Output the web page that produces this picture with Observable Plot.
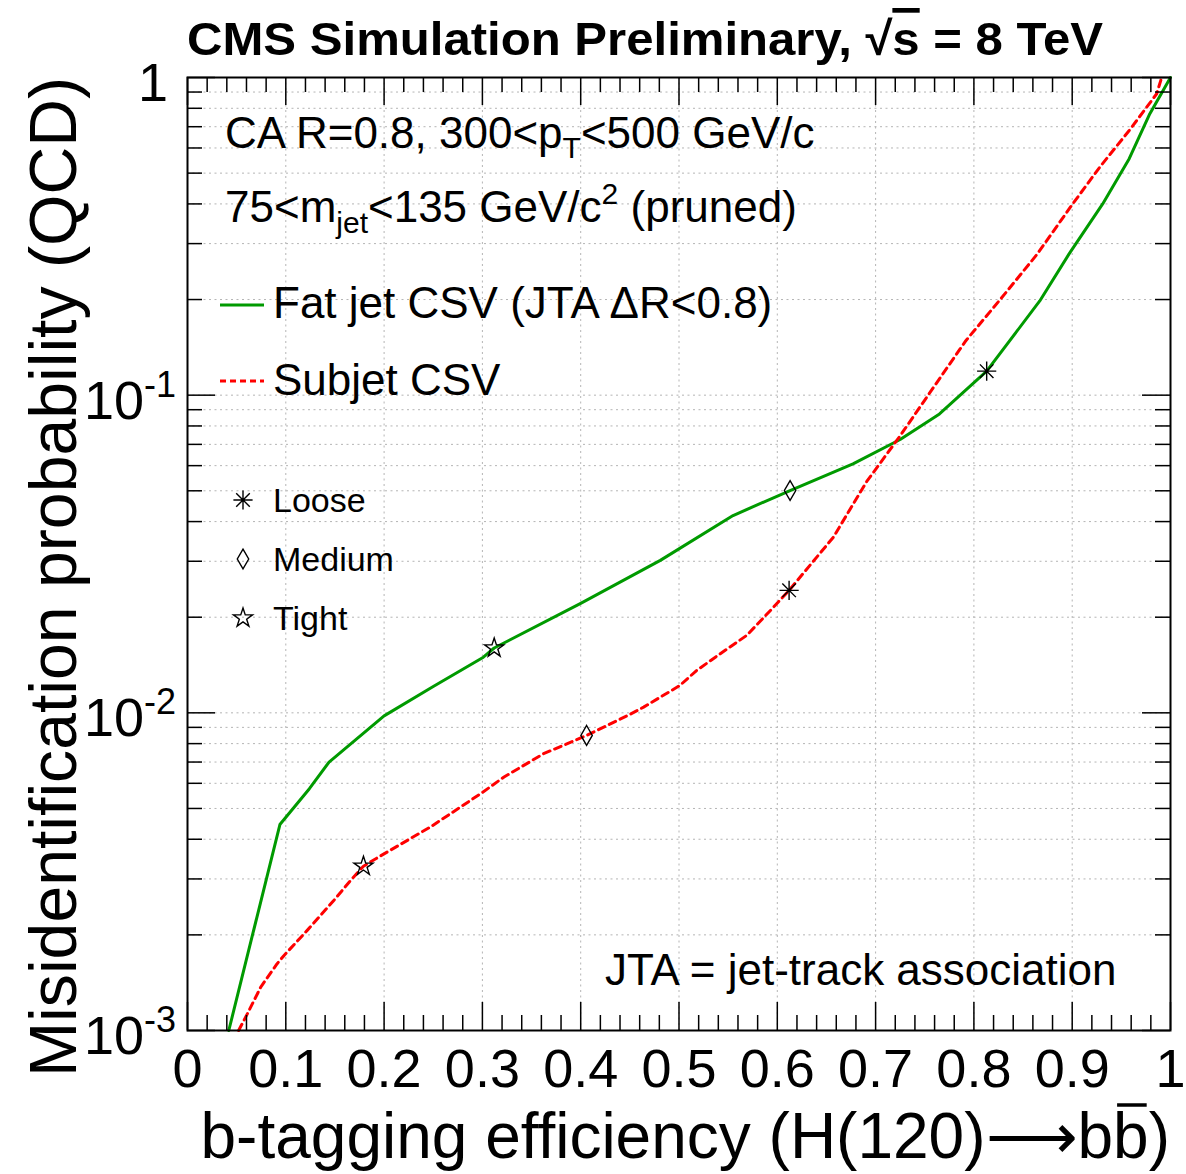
<!DOCTYPE html>
<html><head><meta charset="utf-8">
<script src="https://cdn.jsdelivr.net/npm/d3@7"></script>
<script src="https://cdn.jsdelivr.net/npm/@observablehq/plot@0.6"></script>
<style>
html,body{margin:0;padding:0;background:#fff;}
#chart{width:1186px;height:1174px;}
</style></head><body><div id="chart"></div>
<script>
// ---- data ----
const fatJetEff = [0.042, 0.094, 0.124, 0.144, 0.200, 0.250, 0.301, 0.312, 0.400, 0.481, 0.555, 0.613, 0.677, 0.725, 0.765, 0.813, 0.867, 0.897, 0.931, 0.958, 0.979, 1.000];
const fatJetMis = [0.0010, 0.00445, 0.00577, 0.0070, 0.00978, 0.0121, 0.01497, 0.0160, 0.0221, 0.0302, 0.0418, 0.0501, 0.0608, 0.0725, 0.0873, 0.119, 0.198, 0.279, 0.400, 0.555, 0.769, 1.0];
const subjetEff = [0.052, 0.061, 0.0745, 0.091, 0.098, 0.122, 0.149, 0.166, 0.179, 0.196, 0.247, 0.298, 0.322, 0.362, 0.406, 0.450, 0.464, 0.501, 0.518, 0.542, 0.569, 0.593, 0.612, 0.657, 0.691, 0.725, 0.759, 0.792, 0.826, 0.864, 0.900, 0.928, 0.958, 0.986, 0.991];
const subjetMis = [0.0010, 0.00113, 0.00137, 0.00162, 0.00172, 0.00207, 0.00257, 0.00297, 0.00329, 0.00354, 0.00437, 0.00556, 0.00628, 0.00743, 0.00849, 0.00989, 0.01042, 0.0122, 0.0136, 0.01535, 0.01754, 0.0210, 0.0243, 0.0357, 0.0535, 0.0745, 0.1059, 0.1487, 0.1987, 0.277, 0.398, 0.522, 0.681, 0.889, 1.0];
const wpNames = ["Loose", "Medium", "Tight"];
const fatJetWpEff = [0.813, 0.613, 0.312];
const fatJetWpMis = [0.119, 0.0501, 0.0160];
const subjetWpEff = [0.612, 0.406, 0.179];
const subjetWpMis = [0.0243, 0.00849, 0.00329];
const xTicks = [0, 0.1, 0.2, 0.3, 0.4, 0.5, 0.6, 0.7, 0.8, 0.9, 1];
const xTickLabels = ["0", "0.1", "0.2", "0.3", "0.4", "0.5", "0.6", "0.7", "0.8", "0.9", "1"];
const yMajor = [0.001, 0.01, 0.1, 1];
const yTickBase = ["10", "10", "10", "1"];
const yTickExp = ["-3", "-2", "-1", ""];
const seriesNames = ["Fat jet CSV (JTA \u0394R<0.8)", "Subjet CSV"];

// ---- derived tick positions ----
const xMinor = [];
for (let i = 0; i < xTicks.length - 1; i++) for (let k = 1; k < 5; k++) xMinor.push(xTicks[i] + (xTicks[i+1]-xTicks[i])*k/5);
const yMinor = [];
for (let i = 0; i < yMajor.length - 1; i++) for (let m = 2; m <= 9; m++) yMinor.push(yMajor[i]*m);
const xGrid = xTicks.slice(1, -1);
const yGrid = yMinor.concat(yMajor.slice(1, -1));

const fat = fatJetEff.map((x, i) => ({x, y: fatJetMis[i]}));
const sub = subjetEff.map((x, i) => ({x, y: subjetMis[i]}));
const wpPoints = [];
wpNames.forEach((n, i) => {
  wpPoints.push({wp: n, x: fatJetWpEff[i], y: fatJetWpMis[i]});
  wpPoints.push({wp: n, x: subjetWpEff[i], y: subjetWpMis[i]});
});

const asterisk = {draw(ctx, size) {
  const r = Math.sqrt(size / Math.PI) * 1.6, d = r * Math.SQRT1_2;
  ctx.moveTo(-r, 0); ctx.lineTo(r, 0); ctx.moveTo(0, -r); ctx.lineTo(0, r);
  ctx.moveTo(-d, -d); ctx.lineTo(d, d); ctx.moveTo(-d, d); ctx.lineTo(d, -d);
}};
const symbolFor = {Loose: asterisk, Medium: "diamond", Tight: "star"};

const W = 1186, H = 1174;
const M = {top: 77, right: 16, bottom: 144, left: 187};
const fw = W - M.left - M.right, fh = H - M.top - M.bottom;
const majLen = 28, minLen = 15;
const GREEN = "#009a00", RED = "#ff0000";
const FONT = "'Liberation Sans', Arial, Helvetica, sans-serif";
const gridStyle = {stroke: "#b4b4b4", strokeDasharray: "2,3.5", strokeWidth: 1};
const tickStyle = {stroke: "black", strokeWidth: 1.5};

const plot = Plot.plot({
  width: W, height: H,
  marginTop: M.top, marginRight: M.right, marginBottom: M.bottom, marginLeft: M.left,
  style: {background: "white", fontFamily: FONT, color: "black"},
  x: {domain: [0, 1], inset: 0},
  y: {type: "log", domain: [0.001, 1], axis: null, inset: 0},
  marks: [
    Plot.ruleX(xGrid, gridStyle),
    Plot.ruleY(yGrid, gridStyle),
    Plot.line(fat, {x: "x", y: "y", stroke: GREEN, strokeWidth: 3, strokeLinejoin: "round"}),
    Plot.line(sub, {x: "x", y: "y", stroke: RED, strokeWidth: 3, strokeDasharray: "7,5"}),
    ...wpNames.map(n => Plot.dot(wpPoints.filter(d => d.wp === n), {x: "x", y: "y", symbol: symbolFor[n], r: 6, stroke: "black", fill: "none", strokeWidth: 1.4})),
    Plot.ruleX(xTicks, {...tickStyle, insetTop: fh - majLen}),
    Plot.ruleX(xTicks, {...tickStyle, insetBottom: fh - majLen}),
    Plot.ruleX(xMinor, {...tickStyle, insetTop: fh - minLen}),
    Plot.ruleX(xMinor, {...tickStyle, insetBottom: fh - minLen}),
    Plot.ruleY(yMajor, {...tickStyle, insetRight: fw - majLen}),
    Plot.ruleY(yMajor, {...tickStyle, insetLeft: fw - majLen}),
    Plot.ruleY(yMinor, {...tickStyle, insetRight: fw - minLen}),
    Plot.ruleY(yMinor, {...tickStyle, insetLeft: fw - minLen}),
    Plot.frame({stroke: "black", strokeWidth: 2}),
    Plot.axisX(xTicks, {tickSize: 0, tickPadding: 18, fontSize: 54, label: null,
      tickFormat: d => xTickLabels[xTicks.indexOf(d)]})
  ]
});
document.getElementById("chart").appendChild(plot);

// ---- text annotations ----
const svg = d3.select(plot);
const yScale = plot.scale("y");
const g = svg.append("g").attr("font-family", FONT).attr("fill", "black").attr("text-anchor", "start");

// y tick labels with superscripts
yMajor.forEach((v, i) => {
  const py = yScale.apply(v);
  const t = g.append("text").attr("text-anchor", "end").attr("font-size", 54)
    .attr("x", yTickExp[i] ? 176 : 168).attr("y", py + 24);
  t.append("tspan").text(yTickBase[i]);
  if (yTickExp[i]) t.append("tspan").attr("font-size", 36).attr("dy", -22).text(yTickExp[i]);
});

// title
const title = g.append("text").attr("x", 187).attr("y", 55).attr("font-size", 47).attr("font-weight", "bold")
  .attr("textLength", 916).attr("lengthAdjust", "spacingAndGlyphs");
title.append("tspan").text("CMS Simulation Preliminary, \u221A");
title.append("tspan").attr("text-decoration", "overline").text("s");
title.append("tspan").text(" = 8 TeV");

// axis titles
g.append("text").attr("transform", "translate(76,77) rotate(-90)").attr("text-anchor", "end")
  .attr("font-size", 66).attr("textLength", 1000).attr("lengthAdjust", "spacingAndGlyphs")
  .text("Misidentification probability (QCD)");
const xTitleStr = "b-tagging efficiency (H(120)\u27F6bb)";
const xt = g.append("text").attr("x", 1170).attr("y", 1158).attr("text-anchor", "end")
  .attr("font-size", 64).text(xTitleStr);
// bar over the anti-b
{
  const node = xt.node();
  const idx = xTitleStr.length - 2;
  const box = node.getExtentOfChar(idx);
  g.append("line").attr("x1", box.x + 4).attr("x2", box.x + box.width - 2)
    .attr("y1", 1105).attr("y2", 1105).attr("stroke", "black").attr("stroke-width", 3.5);
}

// info texts
const t1 = g.append("text").attr("x", 225).attr("y", 148).attr("font-size", 44);
t1.append("tspan").text("CA R=0.8, 300<p");
t1.append("tspan").attr("font-size", 30).attr("dy", 10).text("T");
t1.append("tspan").attr("dy", -10).text("<500 GeV/c");
const t2 = g.append("text").attr("x", 225).attr("y", 222).attr("font-size", 44);
t2.append("tspan").text("75<m");
t2.append("tspan").attr("font-size", 30).attr("dy", 11).text("jet");
t2.append("tspan").attr("dy", -11).text("<135 GeV/c");
t2.append("tspan").attr("font-size", 30).attr("dy", -18).text("2");
t2.append("tspan").attr("dy", 18).text(" (pruned)");

// series legend
g.append("line").attr("x1", 220).attr("x2", 264).attr("y1", 305).attr("y2", 305).attr("stroke", GREEN).attr("stroke-width", 3);
g.append("text").attr("x", 273).attr("y", 318).attr("font-size", 44).text(seriesNames[0]);
g.append("line").attr("x1", 220).attr("x2", 264).attr("y1", 381).attr("y2", 381).attr("stroke", RED).attr("stroke-width", 3).attr("stroke-dasharray", "6,4");
g.append("text").attr("x", 273).attr("y", 395).attr("font-size", 44).text(seriesNames[1]);

// working point legend
const legY = [500, 559, 618];
wpNames.forEach((n, i) => {
  const sym = symbolFor[n] === "diamond" ? d3.symbolDiamond : symbolFor[n] === "star" ? d3.symbolStar : asterisk;
  g.append("path").attr("transform", `translate(243,${legY[i]})`).attr("d", d3.symbol(sym, Math.PI * 36)())
    .attr("fill", "none").attr("stroke", "black").attr("stroke-width", 1.4);
  g.append("text").attr("x", 273).attr("y", legY[i] + 12).attr("font-size", 34).text(n);
});

g.append("text").attr("x", 605).attr("y", 985).attr("font-size", 44).text("JTA = jet-track association");
</script>
</body></html>
